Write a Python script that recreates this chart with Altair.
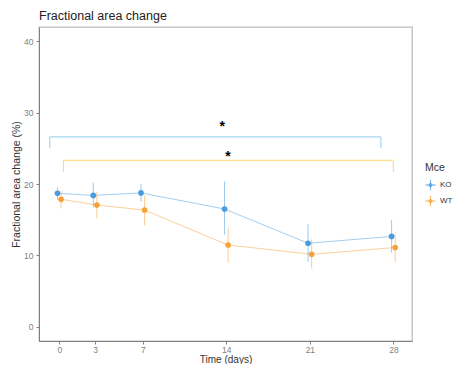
import altair as alt
import pandas as pd

days = [0, 3, 7, 14, 21, 28]
ko_mean = [18.7, 18.4, 18.75, 16.5, 11.7, 12.65]
ko_lo = [17.8, 16.7, 17.5, 12.9, 9.1, 10.4]
ko_hi = [19.5, 20.2, 20.0, 20.35, 14.35, 14.95]
wt_mean = [17.85, 17.05, 16.35, 11.45, 10.15, 11.1]
wt_lo = [16.6, 15.2, 14.2, 9.0, 8.15, 9.1]
wt_hi = [19.0, 18.9, 18.4, 13.9, 12.25, 12.95]

groups = ["KO", "WT"]
colors = ["#4A9CDE", "#F7A13A"]

# significance brackets
br_group = ["KO", "WT"]
br_x1 = [-0.8, 0.35]
br_x2 = [26.95, 28.0]
br_top = [26.6, 23.3]
br_bot = [25.0, 21.7]
br_color = ["#A6D6F2", "#FFDC8C"]
star_x = [13.66, 14.14]
star_y = [28.4, 24.2]
star_lbl = ["*", "*"]

rows = []
for g, m, lo, hi in [("KO", ko_mean, ko_lo, ko_hi), ("WT", wt_mean, wt_lo, wt_hi)]:
    for d, a, b, c in zip(days, m, lo, hi):
        rows.append({"day": d, "Mce": g, "mean": a, "lo": b, "hi": c})
df = pd.DataFrame(rows)

br = pd.DataFrame({"g": br_group, "x1": br_x1, "x2": br_x2, "yt": br_top,
                   "yb": br_bot, "c": br_color, "sx": star_x, "sy": star_y,
                   "lbl": star_lbl})

xs = alt.Scale(domain=[-1.7, 29.56], nice=False, zero=False)
ys = alt.Scale(domain=[-2, 42], nice=False, zero=False)
cs = alt.Scale(domain=groups, range=colors)

symbol_path = ("M-1,-0.09H1V0.09H-1Z M-0.09,-1H0.09V1H-0.09Z "
               "M0.4,0A0.4,0.4 0 1,1 -0.4,0A0.4,0.4 0 1,1 0.4,0Z")

base = alt.Chart(df).transform_calculate(
    xd="datum.day + (datum.Mce == 'KO' ? -0.15 : 0.15)"
)

xax = alt.Axis(values=days, title="Time (days)", grid=False, labelColor="#808080",
               labelFontSize=8.5, titleFontSize=10, titleColor="#333333",
               titleFontWeight="normal", tickColor="#808080", domainColor="#808080",
               tickSize=3, labelPadding=1, titleBaseline="alphabetic", titleY=21.5,
               labelFlush=False)
yax = alt.Axis(values=[0, 10, 20, 30, 40], title="Fractional area change (%)",
               grid=False, labelColor="#808080", labelFontSize=8.5,
               titleFontSize=10.5, titleColor="#333333", titleFontWeight="normal",
               tickColor="#808080", domainColor="#808080", tickSize=3,
               labelPadding=3, titlePadding=2)

legend = alt.Legend(
    title="Mce", orient="none", legendX=386, legendY=136,
    symbolType=symbol_path, symbolSize=110, symbolStrokeWidth=0,
    titleFontSize=10.5, titleFontWeight="normal", titleColor="#333333",
    labelFontSize=8, labelColor="#333333", rowPadding=5, titlePadding=6,
    labelOffset=4, symbolOpacity=0.85)

lines = base.mark_line(strokeWidth=1, opacity=0.5).encode(
    x=alt.X("xd:Q", scale=xs, axis=xax),
    y=alt.Y("mean:Q", scale=ys, axis=yax),
    color=alt.Color("Mce:N", scale=cs, legend=legend),
)
errs = base.mark_rule(strokeWidth=1, opacity=0.55).encode(
    x="xd:Q",
    y="lo:Q",
    y2="hi:Q",
    color=alt.Color("Mce:N", scale=cs, legend=legend),
)
pts = base.mark_point(filled=True, size=32, opacity=1).encode(
    x="xd:Q",
    y="mean:Q",
    color=alt.Color("Mce:N", scale=cs, legend=legend),
)

bchart = alt.Chart(br)
hrule = bchart.mark_rule(strokeWidth=1.2).encode(
    x="x1:Q", x2="x2:Q", y="yt:Q", color=alt.Color("c:N", scale=None))
lrule = bchart.mark_rule(strokeWidth=1.2).encode(
    x="x1:Q", y="yt:Q", y2="yb:Q", color=alt.Color("c:N", scale=None))
rrule = bchart.mark_rule(strokeWidth=1.2).encode(
    x="x2:Q", y="yt:Q", y2="yb:Q", color=alt.Color("c:N", scale=None))
stars = bchart.mark_text(fontSize=14, fontWeight="bold", color="black",
                         baseline="middle", dy=3).encode(
    x="sx:Q", y="sy:Q", text="lbl:N")

chart = alt.layer(hrule, lrule, rrule, stars, lines, errs, pts).properties(
    width=373, height=314,
    title=alt.TitleParams("Fractional area change", anchor="start", fontSize=12.5,
                          fontWeight="normal", color="#222222", offset=5,
                          frame="group"),
    autosize=alt.AutoSizeParams(type="none"),
    padding={"left": 31, "top": 19, "right": 42, "bottom": 23},
).configure(font="Liberation Sans").configure_view(
    stroke="#BDBDBD", strokeWidth=1.3
)

chart.save("out.html", embed_options={"renderer": "svg", "actions": False})
